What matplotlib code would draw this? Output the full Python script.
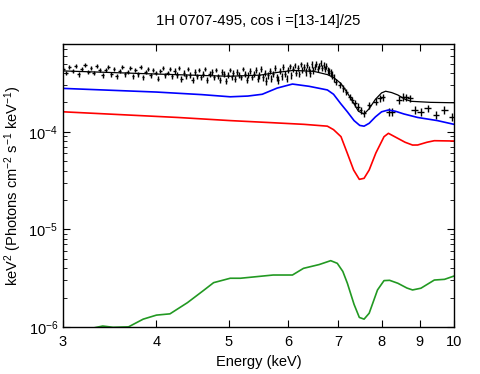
import matplotlib
matplotlib.use('Agg')
import matplotlib.pyplot as plt
from matplotlib.ticker import LogLocator, LogFormatterMathtext, FixedLocator, NullLocator, NullFormatter
import numpy as np

plt.rcParams['font.family'] = ['Liberation Sans', 'DejaVu Sans']
plt.rcParams['mathtext.fontset'] = 'custom'
plt.rcParams['mathtext.rm'] = 'Liberation Sans'
plt.rcParams['mathtext.it'] = 'Liberation Sans:italic'
plt.rcParams['mathtext.bf'] = 'Liberation Sans:bold'

# observed spectrum, dense part (flux in 1e-4 units)
dense_E = [3.00, 3.03, 3.06, 3.09, 3.12, 3.15, 3.18, 3.21, 3.24, 3.27,
           3.30, 3.33, 3.36, 3.39, 3.42, 3.45, 3.48, 3.51, 3.54, 3.57,
           3.60, 3.63, 3.66, 3.69, 3.72, 3.75, 3.78, 3.81, 3.84, 3.87,
           3.90, 3.93, 3.96, 3.99, 4.02, 4.05, 4.08, 4.11, 4.14, 4.17,
           4.20, 4.23, 4.26, 4.29, 4.32, 4.35, 4.38, 4.41, 4.44, 4.47,
           4.50, 4.53, 4.56, 4.59, 4.62, 4.65, 4.68, 4.71, 4.74, 4.77,
           4.80, 4.83, 4.86, 4.89, 4.92, 4.95, 4.98, 5.01, 5.04, 5.07,
           5.10, 5.13, 5.16, 5.19, 5.22, 5.25, 5.28, 5.31, 5.34, 5.37,
           5.40, 5.43, 5.46, 5.49, 5.52, 5.55, 5.58, 5.61, 5.64, 5.67,
           5.70, 5.73, 5.76, 5.79, 5.82, 5.85, 5.88, 5.91, 5.94, 5.97,
           6.00, 6.03, 6.06, 6.09, 6.12, 6.15, 6.18, 6.21, 6.24, 6.27,
           6.30, 6.33, 6.36, 6.39, 6.42, 6.45, 6.48, 6.51, 6.54, 6.57,
           6.60, 6.63, 6.66, 6.69, 6.72, 6.75, 6.78, 6.81, 6.84, 6.87, 6.90]
dense_F = [4.4, 4.0, 4.6, 4.2, 4.7, 3.9, 4.4, 4.8, 4.1, 4.5,
           4.0, 4.7, 4.3, 3.8, 4.3, 4.6, 3.9, 4.4, 3.7, 4.2,
           4.6, 3.9, 4.1, 4.5, 3.7, 4.3, 3.9, 4.6, 3.6, 4.1,
           4.4, 3.8, 4.3, 4.0, 3.5, 4.2, 4.5, 3.8, 4.0, 4.4,
           3.7, 4.2, 3.8, 4.5, 3.5, 4.0, 3.7, 4.4, 3.8, 3.4,
           4.1, 3.7, 4.3, 3.6, 3.9, 4.4, 3.4, 3.9, 4.1, 3.6,
           4.3, 3.7, 3.4, 4.1, 3.9, 3.3, 3.8, 4.3, 3.6, 4.0,
           3.5, 4.1, 3.8, 3.6, 4.4, 3.9, 3.4, 3.8, 4.2, 3.6,
           3.9, 4.3, 3.5, 3.8, 4.4, 3.6, 4.0, 3.3, 3.8, 4.2,
           3.5, 3.9, 4.5, 3.6, 3.4, 4.2, 3.7, 4.6, 3.9, 3.5,
           4.3, 4.7, 3.8, 4.4, 4.8, 4.0, 4.5, 3.9, 4.9, 4.3,
           4.6, 4.1, 4.8, 4.4, 4.0, 4.9, 4.3, 4.6, 5.0, 4.4,
           4.7, 5.1, 4.5, 4.8, 4.4, 4.7, 4.3, 4.2, 4.0, 3.8, 3.6]
dense_err = [0.22] * 40 + [0.25] * 40 + [0.3] * 30 + [0.35] * 21

# observed spectrum, wide bins above 6.9 keV
wide_E = [6.95, 7.03, 7.11, 7.18, 7.26, 7.31, 7.37, 7.44, 7.50, 7.58,
          7.70, 7.86, 7.95, 8.03, 8.18, 8.27, 8.45, 8.54, 8.63, 8.72,
          8.86, 9.02, 9.22, 9.46, 9.70, 9.95]
wide_F = [3.25, 3.01, 2.78, 2.57, 2.28, 2.11, 1.95, 1.80, 1.67, 1.54,
          1.88, 2.03, 2.20, 2.25, 1.60, 1.60, 2.11, 2.28, 2.25, 2.20,
          1.67, 1.60, 1.74, 1.48, 1.67, 1.42]
wide_dE = [0.03, 0.03, 0.03, 0.035, 0.035, 0.035, 0.04, 0.04, 0.04, 0.045,
           0.05, 0.06, 0.06, 0.06, 0.07, 0.07, 0.08, 0.08, 0.08, 0.08,
           0.09, 0.09, 0.1, 0.1, 0.1, 0.1]
wide_err = [0.22, 0.21, 0.2, 0.19, 0.17, 0.16, 0.15, 0.15, 0.14, 0.14,
            0.16, 0.17, 0.19, 0.19, 0.15, 0.15, 0.19, 0.2, 0.2, 0.2,
            0.16, 0.15, 0.16, 0.14, 0.15, 0.14]

# total model (1e-4)
black_E = [3.0, 4.0, 5.0, 5.5, 5.8, 6.1, 6.5, 6.77, 6.9, 7.06, 7.2, 7.33,
           7.45, 7.58, 7.7, 7.85, 8.0, 8.1, 8.25, 8.41, 8.6, 8.76, 9.3, 10.0]
black_F = [4.2, 3.9, 3.7, 3.8, 4.05, 4.25, 4.15, 3.85, 3.6, 3.12, 2.5, 2.0,
           1.62, 1.52, 1.72, 2.15, 2.5, 2.6, 2.52, 2.38, 2.15, 2.05, 2.0, 1.98]

# components
blue_E = [3.0, 4.0, 4.6, 5.02, 5.3, 5.54, 5.8, 6.08, 6.4, 6.77, 6.9, 7.05,
          7.2, 7.35, 7.48, 7.58, 7.7, 7.85, 8.0, 8.17, 8.35, 8.57, 8.94, 9.5, 10.0]
blue_F = [2.78, 2.55, 2.4, 2.28, 2.32, 2.42, 2.8, 3.08, 2.92, 2.68, 2.42, 1.95,
          1.6, 1.3, 1.16, 1.14, 1.22, 1.42, 1.6, 1.67, 1.62, 1.52, 1.40, 1.3, 1.19]

red_E = [3.0, 4.27, 5.02, 5.68, 6.3, 6.77, 6.9, 7.06, 7.20, 7.34, 7.47, 7.58,
         7.70, 7.86, 8.06, 8.17, 8.41, 8.6, 8.8, 8.94, 9.2, 9.41, 10.0]
red_F = [1.60, 1.40, 1.30, 1.24, 1.19, 1.14, 1.05, 0.89, 0.60, 0.405, 0.325,
         0.333, 0.405, 0.605, 0.889, 0.963, 0.855, 0.78, 0.73, 0.731, 0.78, 0.809, 0.803]

# green component (1e-6)
green_E = [3.0, 3.2, 3.39, 3.5, 3.67, 3.84, 4.0, 4.17, 4.40, 4.62, 4.77, 4.82,
           5.02, 5.18, 5.73, 6.08, 6.29, 6.6, 6.84, 6.98, 7.10, 7.20, 7.35, 7.47,
           7.58, 7.70, 7.90, 8.06, 8.2, 8.41, 8.65, 8.80, 9.03, 9.41, 9.71, 10.0]
green_F = [0.85, 0.93, 1.02, 0.99, 1.0, 1.2, 1.32, 1.36, 1.77, 2.35, 2.84, 2.90,
           3.15, 3.15, 3.40, 3.40, 3.98, 4.35, 4.77, 4.48, 3.7, 2.80, 1.7, 1.25,
           1.20, 1.38, 2.39, 2.98, 3.0, 2.80, 2.5, 2.39, 2.49, 3.02, 3.07, 3.32]

xticks = [3, 4, 5, 6, 7, 8, 9, 10]

fig = plt.figure(figsize=(4.81, 3.74), dpi=100)
ax = fig.add_axes([0.131, 0.126, 0.813, 0.756])

ax.errorbar(dense_E, np.array(dense_F) * 1e-4, yerr=np.array(dense_err) * 1e-4,
            xerr=0.015, fmt='none', ecolor='black', elinewidth=1.0)
ax.errorbar(wide_E, np.array(wide_F) * 1e-4, yerr=np.array(wide_err) * 1e-4,
            xerr=wide_dE, fmt='none', ecolor='black', elinewidth=1.0)
ax.plot(black_E, np.array(black_F) * 1e-4, color='black', lw=0.9)
ax.plot(blue_E, np.array(blue_F) * 1e-4, color='#0000ff', lw=1.2)
ax.plot(red_E, np.array(red_F) * 1e-4, color='#ff0000', lw=1.2)
ax.plot(green_E, np.array(green_F) * 1e-6, color='#229922', lw=1.2)

ax.set_xscale('log')
ax.set_yscale('log')
ax.set_xlim(3, 10)
ax.set_ylim(1e-6, 7.9e-4)

ax.xaxis.set_major_locator(FixedLocator(xticks))
ax.xaxis.set_major_formatter(plt.FixedFormatter([str(t) for t in xticks]))
ax.xaxis.set_minor_locator(NullLocator())
ax.xaxis.set_minor_formatter(NullFormatter())
ax.yaxis.set_major_locator(LogLocator(base=10))
ax.yaxis.set_major_formatter(LogFormatterMathtext())
ax.yaxis.set_minor_locator(LogLocator(base=10, subs=np.arange(2, 10)))
ax.yaxis.set_minor_formatter(NullFormatter())

ax.tick_params(which='both', direction='in', top=True, right=True, labelsize=10.5)
ax.tick_params(which='major', length=5, width=0.8)
ax.tick_params(which='minor', length=3, width=0.6)
ax.tick_params(axis='x', pad=6)
for s in ax.spines.values():
    s.set_linewidth(1.0)

ax.set_title('1H 0707-495, cos i =[13-14]/25', fontsize=10.7, pad=14)
ax.set_xlabel('Energy (keV)', fontsize=10.5, labelpad=4)
ax.set_ylabel(r'keV$^2$ (Photons cm$^{-2}$ s$^{-1}$ keV$^{-1}$)', fontsize=10.5, labelpad=3)

fig.savefig('out.png', dpi=100)
